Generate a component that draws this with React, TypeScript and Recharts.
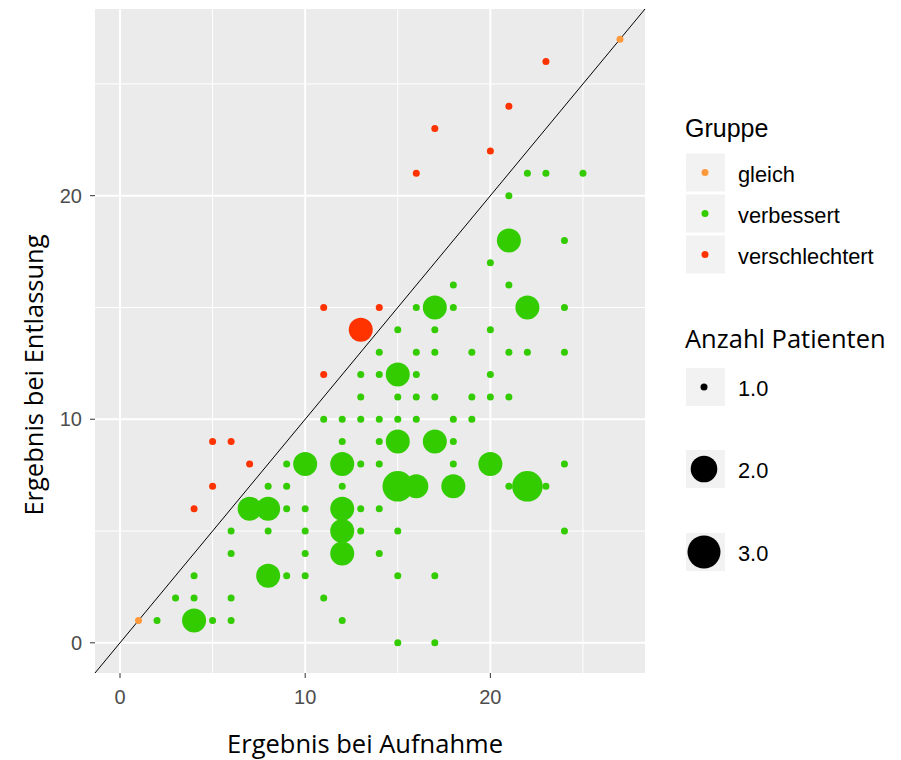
import React from "react";
import { ScatterChart, Scatter, XAxis, YAxis, CartesianGrid, ReferenceLine } from "recharts";

// [Aufnahme, Entlassung, Anzahl Patienten]
type Pt = [number, number, number];

const gleich: Pt[] = [[1, 1, 1], [27, 27, 1]];

const verschlechtert: Pt[] = [
  [4, 6, 1], [5, 7, 1], [5, 9, 1], [6, 9, 1], [7, 8, 1], [11, 12, 1], [11, 15, 1],
  [13, 14, 2], [14, 15, 1], [16, 21, 1], [17, 23, 1], [20, 22, 1], [21, 24, 1], [23, 26, 1],
];

const verbessert: Pt[] = [
  [22, 21, 1], [23, 21, 1], [25, 21, 1],
  [21, 20, 1],
  [21, 18, 2], [24, 18, 1],
  [20, 17, 1],
  [18, 16, 1], [21, 16, 1],
  [16, 15, 1], [17, 15, 2], [18, 15, 1], [22, 15, 2], [24, 15, 1],
  [15, 14, 1], [17, 14, 1], [20, 14, 1],
  [14, 13, 1], [16, 13, 1], [17, 13, 1], [19, 13, 1], [21, 13, 1], [22, 13, 1], [24, 13, 1],
  [13, 12, 1], [14, 12, 1], [15, 12, 2], [16, 12, 1], [20, 12, 1],
  [13, 11, 1], [15, 11, 1], [16, 11, 1], [17, 11, 1], [19, 11, 1], [20, 11, 1], [21, 11, 1],
  [11, 10, 1], [12, 10, 1], [13, 10, 1], [14, 10, 1], [15, 10, 1], [16, 10, 1], [18, 10, 1], [19, 10, 1],
  [12, 9, 1], [14, 9, 1], [15, 9, 2], [17, 9, 2], [18, 9, 1],
  [9, 8, 1], [10, 8, 2], [12, 8, 2], [13, 8, 1], [14, 8, 1], [18, 8, 1], [20, 8, 2], [24, 8, 1],
  [8, 7, 1], [9, 7, 1], [12, 7, 1], [15, 7, 3], [16, 7, 2], [18, 7, 2], [21, 7, 1], [22, 7, 3], [23, 7, 1],
  [7, 6, 2], [8, 6, 2], [9, 6, 1], [10, 6, 1], [12, 6, 2], [13, 6, 1], [14, 6, 1],
  [6, 5, 1], [8, 5, 1], [10, 5, 1], [12, 5, 2], [13, 5, 1], [15, 5, 1], [24, 5, 1],
  [6, 4, 1], [10, 4, 1], [12, 4, 2], [14, 4, 1],
  [4, 3, 1], [8, 3, 2], [9, 3, 1], [10, 3, 1], [15, 3, 1], [17, 3, 1],
  [3, 2, 1], [4, 2, 1], [6, 2, 1], [11, 2, 1],
  [2, 1, 1], [4, 1, 2], [5, 1, 1], [6, 1, 1], [12, 1, 1],
  [15, 0, 1], [17, 0, 1],
];

const groupNames = ["gleich", "verbessert", "verschlechtert"];
const groupColors = ["#FF9A3C", "#33CC00", "#FF3300"];
const sizeBreaks = ["1.0", "2.0", "3.0"];

const majorTicks = [0, 10, 20];
const minorTicks = [5, 15, 25];

const toRows = (pts: Pt[]) => pts.map(([x, y, n]) => ({ x, y, n }));

const radius: Record<number, number> = { 1: 3.5, 2: 12, 3: 15.3 };

const ARIAL = '"Liberation Sans", Arial, sans-serif';
const CAL = '"Open Sans", sans-serif';

const dot = (color: string) => (p: any) => (
  <circle cx={p.cx} cy={p.cy} r={radius[p.payload.n]} fill={color} />
);

const XTick = (p: any) => (
  <text x={p.x} y={p.y} dy={24} textAnchor="middle" fill="#4D4D4D" fontSize={20} fontFamily={ARIAL}>
    {p.payload.value}
  </text>
);

const YTick = (p: any) => (
  <text x={p.x} y={p.y} dx={-6} dy={7} textAnchor="end" fill="#4D4D4D" fontSize={20} fontFamily={ARIAL}>
    {p.payload.value}
  </text>
);

const DOMAIN: [number, number] = [-1.35, 28.35];

export default function App() {
  return (
    <div style={{ position: "absolute", left: 0, top: 0, width: 901, height: 760, background: "#fff" }}>
      <ScatterChart width={901} height={760} margin={{ top: 9, right: 256, bottom: 0, left: 0 }}>
        <CartesianGrid fill="#EBEBEB" stroke="none" horizontal={false} vertical={false} />
        {minorTicks.map((v) => (
          <ReferenceLine key={"mx" + v} x={v} stroke="#fff" strokeWidth={1} />
        ))}
        {minorTicks.map((v) => (
          <ReferenceLine key={"my" + v} y={v} stroke="#fff" strokeWidth={1} />
        ))}
        {majorTicks.map((v) => (
          <ReferenceLine key={"Mx" + v} x={v} stroke="#fff" strokeWidth={2} />
        ))}
        {majorTicks.map((v) => (
          <ReferenceLine key={"My" + v} y={v} stroke="#fff" strokeWidth={2} />
        ))}
        <XAxis
          type="number"
          dataKey="x"
          domain={DOMAIN}
          ticks={majorTicks}
          allowDataOverflow
          axisLine={false}
          tickLine={{ stroke: "#333333" }}
          tickSize={5}
          height={87}
          tick={<XTick />}
        />
        <YAxis
          type="number"
          dataKey="y"
          domain={DOMAIN}
          ticks={majorTicks}
          allowDataOverflow
          axisLine={false}
          tickLine={{ stroke: "#333333" }}
          tickSize={5}
          width={95}
          tick={<YTick />}
        />
        <Scatter data={toRows(gleich)} shape={dot(groupColors[0])} isAnimationActive={false} />
        <Scatter data={toRows(verbessert)} shape={dot(groupColors[1])} isAnimationActive={false} />
        <Scatter data={toRows(verschlechtert)} shape={dot(groupColors[2])} isAnimationActive={false} />
        <ReferenceLine
          segment={[{ x: DOMAIN[0], y: DOMAIN[0] }, { x: DOMAIN[1], y: DOMAIN[1] }]}
          stroke="#000"
          strokeWidth={1}
        />
      </ScatterChart>

      <svg width={901} height={760} style={{ position: "absolute", left: 0, top: 0, pointerEvents: "none" }}>
        <text x={365} y={753} textAnchor="middle" fontSize={25.5} fontFamily={CAL} fill="#000">
          Ergebnis bei Aufnahme
        </text>
        <text
          transform="translate(43,375) rotate(-90)"
          textAnchor="middle"
          fontSize={25.5}
          fontFamily={CAL}
          fill="#000"
        >
          Ergebnis bei Entlassung
        </text>

        <text x={685} y={137} fontSize={25} fontFamily={ARIAL} fill="#000">Gruppe</text>
        {groupNames.map((g, i) => {
          const cy = 172.5 + i * 41;
          return (
            <g key={g}>
              <rect x={686} y={cy - 19} width={39} height={38} fill="#F2F2F2" />
              <circle cx={705} cy={cy} r={3.5} fill={groupColors[i]} />
              <text x={738} y={cy + 9} fontSize={21.8} fontFamily={ARIAL} fill="#000">{g}</text>
            </g>
          );
        })}

        <text x={685} y={348} fontSize={25.5} fontFamily={CAL} fill="#000">Anzahl Patienten</text>
        {sizeBreaks.map((s, i) => {
          const cy = [387, 469, 552][i];
          const r = [3.5, 13.3, 16.5][i];
          return (
            <g key={s}>
              <rect x={686} y={cy - 19} width={39} height={38} fill="#F2F2F2" />
              <circle cx={704} cy={cy} r={r} fill="#000" />
              <text x={738} y={cy + 9} fontSize={21.8} fontFamily={ARIAL} fill="#000">{s}</text>
            </g>
          );
        })}
      </svg>
    </div>
  );
}
